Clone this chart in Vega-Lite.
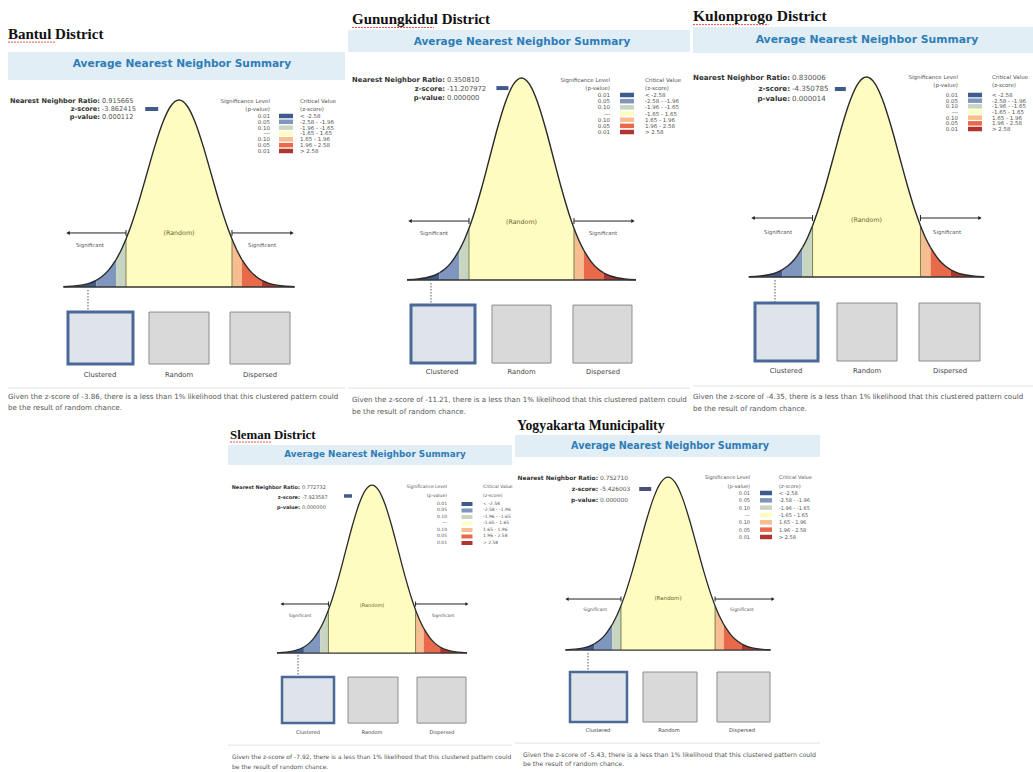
{
"$schema": "https://vega.github.io/schema/vega-lite/v6.json",
"background": "white",
"padding": 0,
"data": {"values": [{}]},
"datasets": {
"curve": [
{"band":"b1","z":-3.6,"d":0.0015},{"band":"b1","z":-3.25,"d":0.0051},{"band":"b1","z":-3.0,"d":0.0111},{"band":"b1","z":-2.8,"d":0.0198},{"band":"b1","z":-2.58,"d":0.0359},
{"band":"b2","z":-2.58,"d":0.0359},{"band":"b2","z":-2.4,"d":0.0561},{"band":"b2","z":-2.2,"d":0.0889},{"band":"b2","z":-1.96,"d":0.1465},
{"band":"b3","z":-1.96,"d":0.1465},{"band":"b3","z":-1.8,"d":0.1979},{"band":"b3","z":-1.65,"d":0.2563},
{"band":"b4","z":-1.65,"d":0.2563},{"band":"b4","z":-1.5,"d":0.3247},{"band":"b4","z":-1.25,"d":0.4578},{"band":"b4","z":-1.0,"d":0.6065},{"band":"b4","z":-0.75,"d":0.7548},{"band":"b4","z":-0.5,"d":0.8825},{"band":"b4","z":-0.25,"d":0.9692},{"band":"b4","z":0,"d":1},{"band":"b4","z":0.25,"d":0.9692},{"band":"b4","z":0.5,"d":0.8825},{"band":"b4","z":0.75,"d":0.7548},{"band":"b4","z":1.0,"d":0.6065},{"band":"b4","z":1.25,"d":0.4578},{"band":"b4","z":1.5,"d":0.3247},{"band":"b4","z":1.65,"d":0.2563},
{"band":"b5","z":1.65,"d":0.2563},{"band":"b5","z":1.8,"d":0.1979},{"band":"b5","z":1.96,"d":0.1465},
{"band":"b6","z":1.96,"d":0.1465},{"band":"b6","z":2.2,"d":0.0889},{"band":"b6","z":2.4,"d":0.0561},{"band":"b6","z":2.58,"d":0.0359},
{"band":"b7","z":2.58,"d":0.0359},{"band":"b7","z":2.8,"d":0.0198},{"band":"b7","z":3.0,"d":0.0111},{"band":"b7","z":3.25,"d":0.0051},{"band":"b7","z":3.6,"d":0.0015}
],
"legend": [
{"rank":1,"p":"0.01","crit":"< -2.58","band":"b1"},
{"rank":2,"p":"0.05","crit":"-2.58 - -1.96","band":"b2"},
{"rank":3,"p":"0.10","crit":"-1.96 - -1.65","band":"b3"},
{"rank":4,"p":"---","crit":"-1.65 - 1.65","band":"b4"},
{"rank":5,"p":"0.10","crit":"1.65 - 1.96","band":"b5"},
{"rank":6,"p":"0.05","crit":"1.96 - 2.58","band":"b6"},
{"rank":7,"p":"0.01","crit":"> 2.58","band":"b7"}
],
"bounds": [{"z":-1.65,"d":0.2563},{"z":1.65,"d":0.2563}]
},
"config": {"view": {"stroke": null}, "axis": {"disable": true}, "legend": {"disable": true}},
"spacing": 0,
"vconcat": [
{"hconcat": [
{"width": 345, "height": 416, "resolve": {"scale": {"y": "independent"}},
"layer": [
{"layer": [
{"mark":{"type":"rect","fill":"#e1eef6"},"encoding":{"x":{"datum":-5.327,"type":"quantitative","scale":{"domain":[-5.576,5.171],"nice":false,"zero":false}},"x2":{"datum":5.171},"y":{"datum":1.257,"type":"quantitative","scale":{"domain":[-0.690,1.535],"nice":false,"zero":false}},"y2":{"datum":1.107}}},
{"mark":{"type":"text","font":"Liberation Serif","fontWeight":"bold","fontSize":15,"align":"left","baseline":"middle","fill":"#111"},"encoding":{"x":{"datum":-5.327},"y":{"datum":1.353},"text":{"value":"Bantul District"}}},
{"mark":{"type":"rule","stroke":"#d9534f","strokeWidth":1,"strokeDash":[2,1]},"encoding":{"x":{"datum":-5.327},"x2":{"datum":-3.85},"y":{"datum":1.31}}},
{"mark":{"type":"text","font":"DejaVu Sans","fontWeight":"bold","fontSize":10.6,"fill":"#2f7db6"},"encoding":{"x":{"datum":0.093},"y":{"datum":1.193},"text":{"value":"Average Nearest Neighbor Summary"}}},
{"mark":{"type":"text","font":"DejaVu Sans","fontWeight":"bold","fontSize":6.6,"align":"right","baseline":"middle","lineHeight":8,"fill":"#333"},"encoding":{"x":{"datum":-2.461},"y":{"datum":0.995},"text":{"value":["Nearest Neighbor Ratio:","z-score:","p-value:"]}}},
{"mark":{"type":"text","font":"DejaVu Sans","fontSize":6.6,"align":"left","baseline":"middle","lineHeight":8,"fill":"#555"},"encoding":{"x":{"datum":-2.399},"y":{"datum":0.995},"text":{"value":["0.915665","-3.862415","0.000112"]}}},
{"mark":{"type":"tick","orient":"horizontal","size":13,"thickness":4,"opacity":1,"color":"#3f5b8c"},"encoding":{"x":{"datum":-0.85},"y":{"datum":0.952}}},
{"data":{"name":"curve"},"mark":{"type":"area","interpolate":"monotone","opacity":1},"encoding":{"x":{"field":"z","type":"quantitative"},"y":{"field":"d","type":"quantitative","stack":null},"color":{"field":"band","type":"nominal","scale":{"domain":["b1","b2","b3","b4","b5","b6","b7"],"range":["#3f5b8c","#7f97bf","#c8d5c0","#fefcc0","#f6bd90","#e9694b","#b0352e"]},"legend":null}}},
{"data":{"name":"bounds"},"mark":{"type":"rule","stroke":"#5e6a3a","strokeWidth":0.8},"encoding":{"x":{"field":"z","type":"quantitative"},"y":{"field":"d","type":"quantitative"},"y2":{"datum":0}}},
{"data":{"name":"curve"},"mark":{"type":"line","interpolate":"monotone","stroke":"#2a2a2a","strokeWidth":1.4},"encoding":{"x":{"field":"z","type":"quantitative"},"y":{"field":"d","type":"quantitative"},"detail":{"field":"band","type":"nominal"}}},
{"mark":{"type":"rule","stroke":"#333","strokeWidth":1.4},"encoding":{"x":{"datum":-3.6},"x2":{"datum":3.6},"y":{"datum":0}}},
{"mark":{"type":"rule","stroke":"#222","strokeWidth":1},"encoding":{"x":{"datum":-3.458},"x2":{"datum":-1.65},"y":{"datum":0.289}}},
{"mark":{"type":"rule","stroke":"#222","strokeWidth":1},"encoding":{"x":{"datum":1.65},"x2":{"datum":3.52},"y":{"datum":0.289}}},
{"mark":{"type":"point","shape":"triangle-left","size":16,"filled":true,"fill":"#222","opacity":1},"encoding":{"x":{"datum":-3.458},"y":{"datum":0.289}}},
{"mark":{"type":"point","shape":"triangle-right","size":16,"filled":true,"fill":"#222","opacity":1},"encoding":{"x":{"datum":3.52},"y":{"datum":0.289}}},
{"mark":{"type":"tick","orient":"vertical","size":6,"thickness":1,"opacity":1,"color":"#222"},"encoding":{"x":{"datum":-1.65},"y":{"datum":0.289}}},
{"mark":{"type":"tick","orient":"vertical","size":6,"thickness":1,"opacity":1,"color":"#222"},"encoding":{"x":{"datum":1.65},"y":{"datum":0.289}}},
{"mark":{"type":"text","font":"DejaVu Sans","fontSize":5.3,"fill":"#555"},"encoding":{"x":{"datum":-2.773},"y":{"datum":0.225},"text":{"value":"Significant"}}},
{"mark":{"type":"text","font":"DejaVu Sans","fontSize":5.3,"fill":"#555"},"encoding":{"x":{"datum":2.586},"y":{"datum":0.225},"text":{"value":"Significant"}}},
{"mark":{"type":"text","font":"DejaVu Sans","fontSize":6.3,"fill":"#6e5f2c"},"encoding":{"x":{"datum":0},"y":{"datum":0.289},"text":{"value":"(Random)"}}},
{"mark":{"type":"rule","stroke":"#555","strokeWidth":1,"strokeDash":[1.5,1.5]},"encoding":{"x":{"datum":-2.835},"y":{"datum":-0.016},"y2":{"datum":-0.134}}},
{"mark":{"type":"rect","fill":"#dfe4ea","stroke":"#4a6898","strokeWidth":3},"encoding":{"x":{"datum":-3.458},"x2":{"datum":-1.433},"y":{"datum":-0.134},"y2":{"datum":-0.412}}},
{"mark":{"type":"rect","fill":"#d9d9d9","stroke":"#8c8c8c","strokeWidth":1},"encoding":{"x":{"datum":-0.935},"x2":{"datum":0.935},"y":{"datum":-0.134},"y2":{"datum":-0.412}}},
{"mark":{"type":"rect","fill":"#d9d9d9","stroke":"#8c8c8c","strokeWidth":1},"encoding":{"x":{"datum":1.589},"x2":{"datum":3.458},"y":{"datum":-0.134},"y2":{"datum":-0.412}}},
{"mark":{"type":"text","font":"DejaVu Sans","fontSize":6.8,"fill":"#444"},"encoding":{"x":{"datum":-2.461},"y":{"datum":-0.471},"text":{"value":"Clustered"}}},
{"mark":{"type":"text","font":"DejaVu Sans","fontSize":6.8,"fill":"#444"},"encoding":{"x":{"datum":0},"y":{"datum":-0.471},"text":{"value":"Random"}}},
{"mark":{"type":"text","font":"DejaVu Sans","fontSize":6.8,"fill":"#444"},"encoding":{"x":{"datum":2.523},"y":{"datum":-0.471},"text":{"value":"Dispersed"}}},
{"mark":{"type":"rule","stroke":"#e3e3e3","strokeWidth":1},"encoding":{"x":{"datum":-5.327},"x2":{"datum":5.171},"y":{"datum":-0.540}}},
{"mark":{"type":"text","font":"DejaVu Sans","fontSize":7.1,"align":"left","baseline":"middle","lineHeight":11,"fill":"#555"},"encoding":{"x":{"datum":-5.327},"y":{"datum":-0.588},"text":{"value":["Given the z-score of -3.86, there is a less than 1% likelihood that this clustered pattern could","be the result of random chance."]}}}
]},
{"layer": [
{"mark":{"type":"text","font":"DejaVu Sans","fontSize":5.5,"align":"right","baseline":"middle","lineHeight":8,"fill":"#555"},"encoding":{"x":{"datum":2.835},"y":{"datum":-1.573,"type":"quantitative","scale":{"domain":[-18.897,52.458],"reverse":true,"nice":false,"zero":false}},"text":{"value":["Significance Level","(p-value)"]}}},
{"mark":{"type":"text","font":"DejaVu Sans","fontSize":5.5,"align":"left","baseline":"middle","lineHeight":8,"fill":"#555"},"encoding":{"x":{"datum":3.769},"y":{"datum":-1.573},"text":{"value":["Critical Value","(z-score)"]}}},
{"data":{"name":"legend"},"mark":{"type":"text","font":"DejaVu Sans","fontSize":5.5,"align":"right","baseline":"middle","fill":"#555"},"encoding":{"x":{"datum":2.835},"y":{"field":"rank","type":"quantitative"},"text":{"field":"p"}}},
{"data":{"name":"legend"},"mark":{"type":"tick","orient":"horizontal","size":14,"thickness":4.5,"opacity":1},"encoding":{"x":{"datum":3.333},"y":{"field":"rank","type":"quantitative"},"color":{"field":"band","type":"nominal","scale":{"domain":["b1","b2","b3","b4","b5","b6","b7"],"range":["#3f5b8c","#7f97bf","#c8d5c0","#fefcc0","#f6bd90","#e9694b","#b0352e"]},"legend":null}}},
{"data":{"name":"legend"},"mark":{"type":"text","font":"DejaVu Sans","fontSize":5.5,"align":"left","baseline":"middle","fill":"#555"},"encoding":{"x":{"datum":3.769},"y":{"field":"rank","type":"quantitative"},"text":{"field":"crit"}}}
]}
]},
{"width": 345, "height": 416, "resolve": {"scale": {"y": "independent"}},
"layer": [
{"layer": [
{"mark":{"type":"rect","fill":"#e1eef6"},"encoding":{"x":{"datum":-5.456,"type":"quantitative","scale":{"domain":[-5.550,5.299],"nice":false,"zero":false}},"x2":{"datum":5.299},"y":{"datum":1.238,"type":"quantitative","scale":{"domain":[-0.673,1.386],"nice":false,"zero":false}},"y2":{"datum":1.129}}},
{"mark":{"type":"text","font":"Liberation Serif","fontWeight":"bold","fontSize":15,"align":"left","baseline":"middle","fill":"#111"},"encoding":{"x":{"datum":-5.330},"y":{"datum":1.292},"text":{"value":"Gunungkidul District"}}},
{"mark":{"type":"rule","stroke":"#d9534f","strokeWidth":1,"strokeDash":[2,1]},"encoding":{"x":{"datum":-5.330},"x2":{"datum":-2.75},"y":{"datum":1.25}}},
{"mark":{"type":"text","font":"DejaVu Sans","fontWeight":"bold","fontSize":10.5,"fill":"#2f7db6"},"encoding":{"x":{"datum":0.016},"y":{"datum":1.178},"text":{"value":"Average Nearest Neighbor Summary"}}},
{"mark":{"type":"text","font":"DejaVu Sans","fontWeight":"bold","fontSize":6.8,"align":"right","baseline":"middle","lineHeight":9,"fill":"#333"},"encoding":{"x":{"datum":-2.406},"y":{"datum":0.990},"text":{"value":["Nearest Neighbor Ratio:","z-score:","p-value:"]}}},
{"mark":{"type":"text","font":"DejaVu Sans","fontSize":6.8,"align":"left","baseline":"middle","lineHeight":9,"fill":"#555"},"encoding":{"x":{"datum":-2.343},"y":{"datum":0.990},"text":{"value":["0.350810","-11.207972","0.000000"]}}},
{"mark":{"type":"tick","orient":"horizontal","size":12,"thickness":4,"opacity":1,"color":"#3f5b8c"},"encoding":{"x":{"datum":-0.6},"y":{"datum":0.950}}},
{"data":{"name":"curve"},"mark":{"type":"area","interpolate":"monotone","opacity":1},"encoding":{"x":{"field":"z","type":"quantitative"},"y":{"field":"d","type":"quantitative","stack":null},"color":{"field":"band","type":"nominal","scale":{"domain":["b1","b2","b3","b4","b5","b6","b7"],"range":["#3f5b8c","#7f97bf","#c8d5c0","#fefcc0","#f6bd90","#e9694b","#b0352e"]},"legend":null}}},
{"data":{"name":"bounds"},"mark":{"type":"rule","stroke":"#5e6a3a","strokeWidth":0.8},"encoding":{"x":{"field":"z","type":"quantitative"},"y":{"field":"d","type":"quantitative"},"y2":{"datum":0}}},
{"data":{"name":"curve"},"mark":{"type":"line","interpolate":"monotone","stroke":"#2a2a2a","strokeWidth":1.4},"encoding":{"x":{"field":"z","type":"quantitative"},"y":{"field":"d","type":"quantitative"},"detail":{"field":"band","type":"nominal"}}},
{"mark":{"type":"rule","stroke":"#333","strokeWidth":1.4},"encoding":{"x":{"datum":-3.6},"x2":{"datum":3.6},"y":{"datum":0}}},
{"mark":{"type":"rule","stroke":"#222","strokeWidth":1},"encoding":{"x":{"datum":-3.506},"x2":{"datum":-1.65},"y":{"datum":0.292}}},
{"mark":{"type":"rule","stroke":"#222","strokeWidth":1},"encoding":{"x":{"datum":1.65},"x2":{"datum":3.506},"y":{"datum":0.292}}},
{"mark":{"type":"point","shape":"triangle-left","size":16,"filled":true,"fill":"#222","opacity":1},"encoding":{"x":{"datum":-3.506},"y":{"datum":0.292}}},
{"mark":{"type":"point","shape":"triangle-right","size":16,"filled":true,"fill":"#222","opacity":1},"encoding":{"x":{"datum":3.506},"y":{"datum":0.292}}},
{"mark":{"type":"tick","orient":"vertical","size":6,"thickness":1,"opacity":1,"color":"#222"},"encoding":{"x":{"datum":-1.65},"y":{"datum":0.292}}},
{"mark":{"type":"tick","orient":"vertical","size":6,"thickness":1,"opacity":1,"color":"#222"},"encoding":{"x":{"datum":1.65},"y":{"datum":0.292}}},
{"mark":{"type":"text","font":"DejaVu Sans","fontSize":5.3,"fill":"#555"},"encoding":{"x":{"datum":-2.752},"y":{"datum":0.233},"text":{"value":"Significant"}}},
{"mark":{"type":"text","font":"DejaVu Sans","fontSize":5.3,"fill":"#555"},"encoding":{"x":{"datum":2.563},"y":{"datum":0.233},"text":{"value":"Significant"}}},
{"mark":{"type":"text","font":"DejaVu Sans","fontSize":6.3,"fill":"#6e5f2c"},"encoding":{"x":{"datum":0},"y":{"datum":0.287},"text":{"value":"(Random)"}}},
{"mark":{"type":"rule","stroke":"#555","strokeWidth":1,"strokeDash":[1.5,1.5]},"encoding":{"x":{"datum":-2.846},"y":{"datum":-0.015},"y2":{"datum":-0.124}}},
{"mark":{"type":"rect","fill":"#dfe4ea","stroke":"#4a6898","strokeWidth":3},"encoding":{"x":{"datum":-3.475},"x2":{"datum":-1.462},"y":{"datum":-0.124},"y2":{"datum":-0.411}}},
{"mark":{"type":"rect","fill":"#d9d9d9","stroke":"#8c8c8c","strokeWidth":1},"encoding":{"x":{"datum":-0.928},"x2":{"datum":0.928},"y":{"datum":-0.124},"y2":{"datum":-0.411}}},
{"mark":{"type":"rect","fill":"#d9d9d9","stroke":"#8c8c8c","strokeWidth":1},"encoding":{"x":{"datum":1.619},"x2":{"datum":3.475},"y":{"datum":-0.124},"y2":{"datum":-0.411}}},
{"mark":{"type":"text","font":"DejaVu Sans","fontSize":6.8,"fill":"#444"},"encoding":{"x":{"datum":-2.5},"y":{"datum":-0.455},"text":{"value":"Clustered"}}},
{"mark":{"type":"text","font":"DejaVu Sans","fontSize":6.8,"fill":"#444"},"encoding":{"x":{"datum":0},"y":{"datum":-0.455},"text":{"value":"Random"}}},
{"mark":{"type":"text","font":"DejaVu Sans","fontSize":6.8,"fill":"#444"},"encoding":{"x":{"datum":2.563},"y":{"datum":-0.455},"text":{"value":"Dispersed"}}},
{"mark":{"type":"rule","stroke":"#e3e3e3","strokeWidth":1},"encoding":{"x":{"datum":-5.456},"x2":{"datum":5.299},"y":{"datum":-0.535}}},
{"mark":{"type":"text","font":"DejaVu Sans","fontSize":7.1,"align":"left","baseline":"middle","lineHeight":12,"fill":"#555"},"encoding":{"x":{"datum":-5.330},"y":{"datum":-0.594},"text":{"value":["Given the z-score of -11.21, there is a less than 1% likelihood that this clustered pattern could","be the result of random chance."]}}}
]},
{"layer": [
{"mark":{"type":"text","font":"DejaVu Sans","fontSize":5.5,"align":"right","baseline":"middle","lineHeight":8,"fill":"#555"},"encoding":{"x":{"datum":2.783},"y":{"datum":-1.431,"type":"quantitative","scale":{"domain":[-14.397,53.026],"reverse":true,"nice":false,"zero":false}},"text":{"value":["Significance Level","(p-value)"]}}},
{"mark":{"type":"text","font":"DejaVu Sans","fontSize":5.5,"align":"left","baseline":"middle","lineHeight":8,"fill":"#555"},"encoding":{"x":{"datum":3.884},"y":{"datum":-1.431},"text":{"value":["Critical Value","(z-score)"]}}},
{"data":{"name":"legend"},"mark":{"type":"text","font":"DejaVu Sans","fontSize":5.5,"align":"right","baseline":"middle","fill":"#555"},"encoding":{"x":{"datum":2.783},"y":{"field":"rank","type":"quantitative"},"text":{"field":"p"}}},
{"data":{"name":"legend"},"mark":{"type":"tick","orient":"horizontal","size":14,"thickness":4.5,"opacity":1},"encoding":{"x":{"datum":3.318},"y":{"field":"rank","type":"quantitative"},"color":{"field":"band","type":"nominal","scale":{"domain":["b1","b2","b3","b4","b5","b6","b7"],"range":["#3f5b8c","#7f97bf","#c8d5c0","#fefcc0","#f6bd90","#e9694b","#b0352e"]},"legend":null}}},
{"data":{"name":"legend"},"mark":{"type":"text","font":"DejaVu Sans","fontSize":5.5,"align":"left","baseline":"middle","fill":"#555"},"encoding":{"x":{"datum":3.884},"y":{"field":"rank","type":"quantitative"},"text":{"field":"crit"}}}
]}
]},
{"width": 343, "height": 416, "resolve": {"scale": {"y": "independent"}},
"layer": [
{"layer": [
{"mark":{"type":"rect","fill":"#e1eef6"},"encoding":{"x":{"datum":-5.306,"type":"quantitative","scale":{"domain":[-5.398,5.092],"nice":false,"zero":false}},"x2":{"datum":5.092},"y":{"datum":1.25,"type":"quantitative","scale":{"domain":[-0.695,1.385],"nice":false,"zero":false}},"y2":{"datum":1.12}}},
{"mark":{"type":"text","font":"Liberation Serif","fontWeight":"bold","fontSize":15.5,"align":"left","baseline":"middle","fill":"#111"},"encoding":{"x":{"datum":-5.306},"y":{"datum":1.305},"text":{"value":"Kulonprogo District"}}},
{"mark":{"type":"rule","stroke":"#d9534f","strokeWidth":1,"strokeDash":[2,1]},"encoding":{"x":{"datum":-5.306},"x2":{"datum":-3.0},"y":{"datum":1.262}}},
{"mark":{"type":"text","font":"DejaVu Sans","fontWeight":"bold","fontSize":10.8,"fill":"#2f7db6"},"encoding":{"x":{"datum":0.015},"y":{"datum":1.185},"text":{"value":"Average Nearest Neighbor Summary"}}},
{"mark":{"type":"text","font":"DejaVu Sans","fontWeight":"bold","fontSize":7.1,"align":"right","baseline":"middle","lineHeight":10.5,"fill":"#333"},"encoding":{"x":{"datum":-2.339},"y":{"datum":0.995},"text":{"value":["Nearest Neighbor Ratio:","z-score:","p-value:"]}}},
{"mark":{"type":"text","font":"DejaVu Sans","fontSize":7.1,"align":"left","baseline":"middle","lineHeight":10.5,"fill":"#555"},"encoding":{"x":{"datum":-2.278},"y":{"datum":0.995},"text":{"value":["0.830006","-4.350785","0.000014"]}}},
{"mark":{"type":"tick","orient":"horizontal","size":11,"thickness":4,"opacity":1,"color":"#3f5b8c"},"encoding":{"x":{"datum":-0.8},"y":{"datum":0.94}}},
{"data":{"name":"curve"},"mark":{"type":"area","interpolate":"monotone","opacity":1},"encoding":{"x":{"field":"z","type":"quantitative"},"y":{"field":"d","type":"quantitative","stack":null},"color":{"field":"band","type":"nominal","scale":{"domain":["b1","b2","b3","b4","b5","b6","b7"],"range":["#3f5b8c","#7f97bf","#c8d5c0","#fefcc0","#f6bd90","#e9694b","#b0352e"]},"legend":null}}},
{"data":{"name":"bounds"},"mark":{"type":"rule","stroke":"#5e6a3a","strokeWidth":0.8},"encoding":{"x":{"field":"z","type":"quantitative"},"y":{"field":"d","type":"quantitative"},"y2":{"datum":0}}},
{"data":{"name":"curve"},"mark":{"type":"line","interpolate":"monotone","stroke":"#2a2a2a","strokeWidth":1.4},"encoding":{"x":{"field":"z","type":"quantitative"},"y":{"field":"d","type":"quantitative"},"detail":{"field":"band","type":"nominal"}}},
{"mark":{"type":"rule","stroke":"#333","strokeWidth":1.4},"encoding":{"x":{"datum":-3.6},"x2":{"datum":3.6},"y":{"datum":0}}},
{"mark":{"type":"rule","stroke":"#222","strokeWidth":1},"encoding":{"x":{"datum":-3.471},"x2":{"datum":-1.65},"y":{"datum":0.295}}},
{"mark":{"type":"rule","stroke":"#222","strokeWidth":1},"encoding":{"x":{"datum":1.65},"x2":{"datum":3.471},"y":{"datum":0.295}}},
{"mark":{"type":"point","shape":"triangle-left","size":16,"filled":true,"fill":"#222","opacity":1},"encoding":{"x":{"datum":-3.471},"y":{"datum":0.295}}},
{"mark":{"type":"point","shape":"triangle-right","size":16,"filled":true,"fill":"#222","opacity":1},"encoding":{"x":{"datum":3.471},"y":{"datum":0.295}}},
{"mark":{"type":"tick","orient":"vertical","size":6,"thickness":1,"opacity":1,"color":"#222"},"encoding":{"x":{"datum":-1.65},"y":{"datum":0.295}}},
{"mark":{"type":"tick","orient":"vertical","size":6,"thickness":1,"opacity":1,"color":"#222"},"encoding":{"x":{"datum":1.65},"y":{"datum":0.295}}},
{"mark":{"type":"text","font":"DejaVu Sans","fontSize":5.3,"fill":"#555"},"encoding":{"x":{"datum":-2.706},"y":{"datum":0.225},"text":{"value":"Significant"}}},
{"mark":{"type":"text","font":"DejaVu Sans","fontSize":5.3,"fill":"#555"},"encoding":{"x":{"datum":2.462},"y":{"datum":0.225},"text":{"value":"Significant"}}},
{"mark":{"type":"text","font":"DejaVu Sans","fontSize":6.3,"fill":"#6e5f2c"},"encoding":{"x":{"datum":0},"y":{"datum":0.285},"text":{"value":"(Random)"}}},
{"mark":{"type":"rule","stroke":"#555","strokeWidth":1,"strokeDash":[1.5,1.5]},"encoding":{"x":{"datum":-2.798},"y":{"datum":-0.015},"y2":{"datum":-0.13}}},
{"mark":{"type":"rect","fill":"#dfe4ea","stroke":"#4a6898","strokeWidth":3},"encoding":{"x":{"datum":-3.410},"x2":{"datum":-1.483},"y":{"datum":-0.13},"y2":{"datum":-0.42}}},
{"mark":{"type":"rect","fill":"#d9d9d9","stroke":"#8c8c8c","strokeWidth":1},"encoding":{"x":{"datum":-0.902},"x2":{"datum":0.933},"y":{"datum":-0.13},"y2":{"datum":-0.42}}},
{"mark":{"type":"rect","fill":"#d9d9d9","stroke":"#8c8c8c","strokeWidth":1},"encoding":{"x":{"datum":1.606},"x2":{"datum":3.471},"y":{"datum":-0.13},"y2":{"datum":-0.42}}},
{"mark":{"type":"text","font":"DejaVu Sans","fontSize":6.8,"fill":"#444"},"encoding":{"x":{"datum":-2.462},"y":{"datum":-0.47},"text":{"value":"Clustered"}}},
{"mark":{"type":"text","font":"DejaVu Sans","fontSize":6.8,"fill":"#444"},"encoding":{"x":{"datum":0.015},"y":{"datum":-0.47},"text":{"value":"Random"}}},
{"mark":{"type":"text","font":"DejaVu Sans","fontSize":6.8,"fill":"#444"},"encoding":{"x":{"datum":2.554},"y":{"datum":-0.47},"text":{"value":"Dispersed"}}},
{"mark":{"type":"rule","stroke":"#e3e3e3","strokeWidth":1},"encoding":{"x":{"datum":-5.306},"x2":{"datum":5.092},"y":{"datum":-0.545}}},
{"mark":{"type":"text","font":"DejaVu Sans","fontSize":7.1,"align":"left","baseline":"middle","lineHeight":12,"fill":"#555"},"encoding":{"x":{"datum":-5.306},"y":{"datum":-0.6},"text":{"value":["Given the z-score of -4.35, there is a less than 1% likelihood that this clustered pattern could","be the result of random chance."]}}}
]},
{"layer": [
{"mark":{"type":"text","font":"DejaVu Sans","fontSize":5.5,"align":"right","baseline":"middle","lineHeight":8,"fill":"#555"},"encoding":{"x":{"datum":2.798},"y":{"datum":-2.175,"type":"quantitative","scale":{"domain":[-15.755,57.614],"reverse":true,"nice":false,"zero":false}},"text":{"value":["Significance Level","(p-value)"]}}},
{"mark":{"type":"text","font":"DejaVu Sans","fontSize":5.5,"align":"left","baseline":"middle","lineHeight":8,"fill":"#555"},"encoding":{"x":{"datum":3.838},"y":{"datum":-2.175},"text":{"value":["Critical Value","(z-score)"]}}},
{"data":{"name":"legend"},"mark":{"type":"text","font":"DejaVu Sans","fontSize":5.5,"align":"right","baseline":"middle","fill":"#555"},"encoding":{"x":{"datum":2.798},"y":{"field":"rank","type":"quantitative"},"text":{"field":"p"}}},
{"data":{"name":"legend"},"mark":{"type":"tick","orient":"horizontal","size":14,"thickness":4.5,"opacity":1},"encoding":{"x":{"datum":3.318},"y":{"field":"rank","type":"quantitative"},"color":{"field":"band","type":"nominal","scale":{"domain":["b1","b2","b3","b4","b5","b6","b7"],"range":["#3f5b8c","#7f97bf","#c8d5c0","#fefcc0","#f6bd90","#e9694b","#b0352e"]},"legend":null}}},
{"data":{"name":"legend"},"mark":{"type":"text","font":"DejaVu Sans","fontSize":5.5,"align":"left","baseline":"middle","fill":"#555"},"encoding":{"x":{"datum":3.838},"y":{"field":"rank","type":"quantitative"},"text":{"field":"crit"}}}
]}
]}
], "spacing": 0, "bounds": "flush"},
{"hconcat": [
{"width": 512, "height": 356, "resolve": {"scale": {"y": "independent"}},
"layer": [
{"layer": [
{"mark":{"type":"rect","fill":"#e1eef6"},"encoding":{"x":{"datum":-5.455,"type":"quantitative","scale":{"domain":[-14.091,5.303],"nice":false,"zero":false}},"x2":{"datum":5.303},"y":{"datum":1.238,"type":"quantitative","scale":{"domain":[-0.708,1.411],"nice":false,"zero":false}},"y2":{"datum":1.119}}},
{"mark":{"type":"text","font":"Liberation Serif","fontWeight":"bold","fontSize":12.9,"align":"left","baseline":"middle","fill":"#111"},"encoding":{"x":{"datum":-5.379},"y":{"datum":1.298},"text":{"value":"Sleman District"}}},
{"mark":{"type":"rule","stroke":"#d9534f","strokeWidth":1,"strokeDash":[2,1]},"encoding":{"x":{"datum":-5.379},"x2":{"datum":-3.8},"y":{"datum":1.256}}},
{"mark":{"type":"text","font":"DejaVu Sans","fontWeight":"bold","fontSize":8.8,"fill":"#2f7db6"},"encoding":{"x":{"datum":0.114},"y":{"datum":1.185},"text":{"value":"Average Nearest Neighbor Summary"}}},
{"mark":{"type":"text","font":"DejaVu Sans","fontWeight":"bold","fontSize":5.0,"align":"right","baseline":"middle","lineHeight":10,"fill":"#333"},"encoding":{"x":{"datum":-2.727},"y":{"datum":0.988},"text":{"value":["Nearest Neighbor Ratio:","z-score:","p-value:"]}}},
{"mark":{"type":"text","font":"DejaVu Sans","fontSize":5.0,"align":"left","baseline":"middle","lineHeight":10,"fill":"#555"},"encoding":{"x":{"datum":-2.652},"y":{"datum":0.988},"text":{"value":["0.772732","-7.923587","0.000000"]}}},
{"mark":{"type":"tick","orient":"horizontal","size":8,"thickness":3.5,"opacity":1,"color":"#3f5b8c"},"encoding":{"x":{"datum":-0.909},"y":{"datum":0.935}}},
{"data":{"name":"curve"},"mark":{"type":"area","interpolate":"monotone","opacity":1},"encoding":{"x":{"field":"z","type":"quantitative"},"y":{"field":"d","type":"quantitative","stack":null},"color":{"field":"band","type":"nominal","scale":{"domain":["b1","b2","b3","b4","b5","b6","b7"],"range":["#3f5b8c","#7f97bf","#c8d5c0","#fefcc0","#f6bd90","#e9694b","#b0352e"]},"legend":null}}},
{"data":{"name":"bounds"},"mark":{"type":"rule","stroke":"#5e6a3a","strokeWidth":0.8},"encoding":{"x":{"field":"z","type":"quantitative"},"y":{"field":"d","type":"quantitative"},"y2":{"datum":0}}},
{"data":{"name":"curve"},"mark":{"type":"line","interpolate":"monotone","stroke":"#2a2a2a","strokeWidth":1.3},"encoding":{"x":{"field":"z","type":"quantitative"},"y":{"field":"d","type":"quantitative"},"detail":{"field":"band","type":"nominal"}}},
{"mark":{"type":"rule","stroke":"#333","strokeWidth":1.3},"encoding":{"x":{"datum":-3.6},"x2":{"datum":3.6},"y":{"datum":0}}},
{"mark":{"type":"rule","stroke":"#222","strokeWidth":1},"encoding":{"x":{"datum":-3.409},"x2":{"datum":-1.65},"y":{"datum":0.292}}},
{"mark":{"type":"rule","stroke":"#222","strokeWidth":1},"encoding":{"x":{"datum":1.65},"x2":{"datum":3.598},"y":{"datum":0.292}}},
{"mark":{"type":"point","shape":"triangle-left","size":14,"filled":true,"fill":"#222","opacity":1},"encoding":{"x":{"datum":-3.409},"y":{"datum":0.292}}},
{"mark":{"type":"point","shape":"triangle-right","size":14,"filled":true,"fill":"#222","opacity":1},"encoding":{"x":{"datum":3.598},"y":{"datum":0.292}}},
{"mark":{"type":"tick","orient":"vertical","size":5,"thickness":1,"opacity":1,"color":"#222"},"encoding":{"x":{"datum":-1.65},"y":{"datum":0.292}}},
{"mark":{"type":"tick","orient":"vertical","size":5,"thickness":1,"opacity":1,"color":"#222"},"encoding":{"x":{"datum":1.65},"y":{"datum":0.292}}},
{"mark":{"type":"text","font":"DejaVu Sans","fontSize":4.3,"fill":"#555"},"encoding":{"x":{"datum":-2.727},"y":{"datum":0.22},"text":{"value":"Significant"}}},
{"mark":{"type":"text","font":"DejaVu Sans","fontSize":4.3,"fill":"#555"},"encoding":{"x":{"datum":2.689},"y":{"datum":0.22},"text":{"value":"Significant"}}},
{"mark":{"type":"text","font":"DejaVu Sans","fontSize":5,"fill":"#6e5f2c"},"encoding":{"x":{"datum":0},"y":{"datum":0.286},"text":{"value":"(Random)"}}},
{"mark":{"type":"rule","stroke":"#555","strokeWidth":1,"strokeDash":[1.5,1.5]},"encoding":{"x":{"datum":-2.803},"y":{"datum":-0.012},"y2":{"datum":-0.143}}},
{"mark":{"type":"rect","fill":"#dfe4ea","stroke":"#4a6898","strokeWidth":2.5},"encoding":{"x":{"datum":-3.409},"x2":{"datum":-1.439},"y":{"datum":-0.143},"y2":{"datum":-0.417}}},
{"mark":{"type":"rect","fill":"#d9d9d9","stroke":"#8c8c8c","strokeWidth":1},"encoding":{"x":{"datum":-0.909},"x2":{"datum":0.985},"y":{"datum":-0.143},"y2":{"datum":-0.417}}},
{"mark":{"type":"rect","fill":"#d9d9d9","stroke":"#8c8c8c","strokeWidth":1},"encoding":{"x":{"datum":1.705},"x2":{"datum":3.561},"y":{"datum":-0.143},"y2":{"datum":-0.417}}},
{"mark":{"type":"text","font":"DejaVu Sans","fontSize":5,"fill":"#444"},"encoding":{"x":{"datum":-2.424},"y":{"datum":-0.47},"text":{"value":"Clustered"}}},
{"mark":{"type":"text","font":"DejaVu Sans","fontSize":5,"fill":"#444"},"encoding":{"x":{"datum":0},"y":{"datum":-0.47},"text":{"value":"Random"}}},
{"mark":{"type":"text","font":"DejaVu Sans","fontSize":5,"fill":"#444"},"encoding":{"x":{"datum":2.652},"y":{"datum":-0.47},"text":{"value":"Dispersed"}}},
{"mark":{"type":"rule","stroke":"#e3e3e3","strokeWidth":1},"encoding":{"x":{"datum":-5.455},"x2":{"datum":5.303},"y":{"datum":-0.548}}},
{"mark":{"type":"text","font":"DejaVu Sans","fontSize":6.0,"align":"left","baseline":"middle","lineHeight":10,"fill":"#555"},"encoding":{"x":{"datum":-5.303},"y":{"datum":-0.619},"text":{"value":["Given the z-score of -7.92, there is a less than 1% likelihood that this clustered pattern could","be the result of random chance."]}}}
]},
{"layer": [
{"mark":{"type":"text","font":"DejaVu Sans","fontSize":4.5,"align":"right","baseline":"middle","lineHeight":9,"fill":"#555"},"encoding":{"x":{"datum":2.841},"y":{"datum":-1.615,"type":"quantitative","scale":{"domain":[-12.538,42.231],"reverse":true,"nice":false,"zero":false}},"text":{"value":["Significance Level","(p-value)"]}}},
{"mark":{"type":"text","font":"DejaVu Sans","fontSize":4.5,"align":"left","baseline":"middle","lineHeight":9,"fill":"#555"},"encoding":{"x":{"datum":4.205},"y":{"datum":-1.615},"text":{"value":["Critical Value","(z-score)"]}}},
{"data":{"name":"legend"},"mark":{"type":"text","font":"DejaVu Sans","fontSize":4.5,"align":"right","baseline":"middle","fill":"#555"},"encoding":{"x":{"datum":2.841},"y":{"field":"rank","type":"quantitative"},"text":{"field":"p"}}},
{"data":{"name":"legend"},"mark":{"type":"tick","orient":"horizontal","size":11,"thickness":4,"opacity":1},"encoding":{"x":{"datum":3.598},"y":{"field":"rank","type":"quantitative"},"color":{"field":"band","type":"nominal","scale":{"domain":["b1","b2","b3","b4","b5","b6","b7"],"range":["#3f5b8c","#7f97bf","#c8d5c0","#fefcc0","#f6bd90","#e9694b","#b0352e"]},"legend":null}}},
{"data":{"name":"legend"},"mark":{"type":"text","font":"DejaVu Sans","fontSize":4.5,"align":"left","baseline":"middle","fill":"#555"},"encoding":{"x":{"datum":4.205},"y":{"field":"rank","type":"quantitative"},"text":{"field":"crit"}}}
]}
]},
{"width": 318, "height": 356, "resolve": {"scale": {"y": "independent"}},
"layer": [
{"layer": [
{"mark":{"type":"rect","fill":"#e1eef6"},"encoding":{"x":{"datum":-5.368,"type":"quantitative","scale":{"domain":[-5.474,5.684],"nice":false,"zero":false}},"x2":{"datum":5.333},"y":{"datum":1.243,"type":"quantitative","scale":{"domain":[-0.705,1.353],"nice":false,"zero":false}},"y2":{"datum":1.116}}},
{"mark":{"type":"text","font":"Liberation Serif","fontWeight":"bold","fontSize":13.8,"align":"left","baseline":"middle","fill":"#111"},"encoding":{"x":{"datum":-5.298},"y":{"datum":1.295},"text":{"value":"Yogyakarta Municipality"}}},
{"mark":{"type":"text","font":"DejaVu Sans","fontWeight":"bold","fontSize":9.6,"fill":"#2f7db6"},"encoding":{"x":{"datum":0.07},"y":{"datum":1.179},"text":{"value":"Average Nearest Neighbor Summary"}}},
{"mark":{"type":"text","font":"DejaVu Sans","fontWeight":"bold","fontSize":5.9,"align":"right","baseline":"middle","lineHeight":11,"fill":"#333"},"encoding":{"x":{"datum":-2.456},"y":{"datum":0.994},"text":{"value":["Nearest Neighbor Ratio:","z-score:","p-value:"]}}},
{"mark":{"type":"text","font":"DejaVu Sans","fontSize":5.9,"align":"left","baseline":"middle","lineHeight":11,"fill":"#555"},"encoding":{"x":{"datum":-2.386},"y":{"datum":0.994},"text":{"value":["0.752710","-5.426003","0.000000"]}}},
{"mark":{"type":"tick","orient":"horizontal","size":12,"thickness":4,"opacity":1,"color":"#4a4f80"},"encoding":{"x":{"datum":-0.8},"y":{"datum":0.931}}},
{"data":{"name":"curve"},"mark":{"type":"area","interpolate":"monotone","opacity":1},"encoding":{"x":{"field":"z","type":"quantitative"},"y":{"field":"d","type":"quantitative","stack":null},"color":{"field":"band","type":"nominal","scale":{"domain":["b1","b2","b3","b4","b5","b6","b7"],"range":["#3f5b8c","#7f97bf","#c8d5c0","#fefcc0","#f6bd90","#e9694b","#b0352e"]},"legend":null}}},
{"data":{"name":"bounds"},"mark":{"type":"rule","stroke":"#5e6a3a","strokeWidth":0.8},"encoding":{"x":{"field":"z","type":"quantitative"},"y":{"field":"d","type":"quantitative"},"y2":{"datum":0}}},
{"data":{"name":"curve"},"mark":{"type":"line","interpolate":"monotone","stroke":"#2a2a2a","strokeWidth":1.3},"encoding":{"x":{"field":"z","type":"quantitative"},"y":{"field":"d","type":"quantitative"},"detail":{"field":"band","type":"nominal"}}},
{"mark":{"type":"rule","stroke":"#333","strokeWidth":1.3},"encoding":{"x":{"datum":-3.6},"x2":{"datum":3.6},"y":{"datum":0}}},
{"mark":{"type":"rule","stroke":"#222","strokeWidth":1},"encoding":{"x":{"datum":-3.544},"x2":{"datum":-1.65},"y":{"datum":0.295}}},
{"mark":{"type":"rule","stroke":"#222","strokeWidth":1},"encoding":{"x":{"datum":1.65},"x2":{"datum":3.684},"y":{"datum":0.295}}},
{"mark":{"type":"point","shape":"triangle-left","size":14,"filled":true,"fill":"#222","opacity":1},"encoding":{"x":{"datum":-3.544},"y":{"datum":0.295}}},
{"mark":{"type":"point","shape":"triangle-right","size":14,"filled":true,"fill":"#222","opacity":1},"encoding":{"x":{"datum":3.684},"y":{"datum":0.295}}},
{"mark":{"type":"tick","orient":"vertical","size":5,"thickness":1,"opacity":1,"color":"#222"},"encoding":{"x":{"datum":-1.65},"y":{"datum":0.295}}},
{"mark":{"type":"tick","orient":"vertical","size":5,"thickness":1,"opacity":1,"color":"#222"},"encoding":{"x":{"datum":1.65},"y":{"datum":0.295}}},
{"mark":{"type":"text","font":"DejaVu Sans","fontSize":4.5,"fill":"#555"},"encoding":{"x":{"datum":-2.561},"y":{"datum":0.231},"text":{"value":"Significant"}}},
{"mark":{"type":"text","font":"DejaVu Sans","fontSize":4.5,"fill":"#555"},"encoding":{"x":{"datum":2.596},"y":{"datum":0.231},"text":{"value":"Significant"}}},
{"mark":{"type":"text","font":"DejaVu Sans","fontSize":5.5,"fill":"#6e5f2c"},"encoding":{"x":{"datum":0},"y":{"datum":0.301},"text":{"value":"(Random)"}}},
{"mark":{"type":"rule","stroke":"#555","strokeWidth":1,"strokeDash":[1.5,1.5]},"encoding":{"x":{"datum":-2.807},"y":{"datum":-0.017},"y2":{"datum":-0.127}}},
{"mark":{"type":"rect","fill":"#dfe4ea","stroke":"#4a6898","strokeWidth":2.5},"encoding":{"x":{"datum":-3.439},"x2":{"datum":-1.439},"y":{"datum":-0.127},"y2":{"datum":-0.416}}},
{"mark":{"type":"rect","fill":"#d9d9d9","stroke":"#8c8c8c","strokeWidth":1},"encoding":{"x":{"datum":-0.877},"x2":{"datum":1.018},"y":{"datum":-0.127},"y2":{"datum":-0.416}}},
{"mark":{"type":"rect","fill":"#d9d9d9","stroke":"#8c8c8c","strokeWidth":1},"encoding":{"x":{"datum":1.719},"x2":{"datum":3.579},"y":{"datum":-0.127},"y2":{"datum":-0.416}}},
{"mark":{"type":"text","font":"DejaVu Sans","fontSize":5.2,"fill":"#444"},"encoding":{"x":{"datum":-2.456},"y":{"datum":-0.462},"text":{"value":"Clustered"}}},
{"mark":{"type":"text","font":"DejaVu Sans","fontSize":5.2,"fill":"#444"},"encoding":{"x":{"datum":0.035},"y":{"datum":-0.462},"text":{"value":"Random"}}},
{"mark":{"type":"text","font":"DejaVu Sans","fontSize":5.2,"fill":"#444"},"encoding":{"x":{"datum":2.596},"y":{"datum":-0.462},"text":{"value":"Dispersed"}}},
{"mark":{"type":"rule","stroke":"#e3e3e3","strokeWidth":1},"encoding":{"x":{"datum":-5.368},"x2":{"datum":5.333},"y":{"datum":-0.538}}},
{"mark":{"type":"text","font":"DejaVu Sans","fontSize":6.3,"align":"left","baseline":"middle","lineHeight":9,"fill":"#555"},"encoding":{"x":{"datum":-5.088},"y":{"datum":-0.607},"text":{"value":["Given the z-score of -5.43, there is a less than 1% likelihood that this clustered pattern could","be the result of random chance."]}}}
]},
{"layer": [
{"mark":{"type":"text","font":"DejaVu Sans","fontSize":5,"align":"right","baseline":"middle","lineHeight":9,"fill":"#555"},"encoding":{"x":{"datum":2.877},"y":{"datum":-1.183,"type":"quantitative","scale":{"domain":[-9.505,39.063],"reverse":true,"nice":false,"zero":false}},"text":{"value":["Significance Level","(p-value)"]}}},
{"mark":{"type":"text","font":"DejaVu Sans","fontSize":5,"align":"left","baseline":"middle","lineHeight":9,"fill":"#555"},"encoding":{"x":{"datum":3.895},"y":{"datum":-1.183},"text":{"value":["Critical Value","(z-score)"]}}},
{"data":{"name":"legend"},"mark":{"type":"text","font":"DejaVu Sans","fontSize":5,"align":"right","baseline":"middle","fill":"#555"},"encoding":{"x":{"datum":2.877},"y":{"field":"rank","type":"quantitative"},"text":{"field":"p"}}},
{"data":{"name":"legend"},"mark":{"type":"tick","orient":"horizontal","size":12,"thickness":4.5,"opacity":1},"encoding":{"x":{"datum":3.439},"y":{"field":"rank","type":"quantitative"},"color":{"field":"band","type":"nominal","scale":{"domain":["b1","b2","b3","b4","b5","b6","b7"],"range":["#3f5b8c","#7f97bf","#c8d5c0","#fefcc0","#f6bd90","#e9694b","#b0352e"]},"legend":null}}},
{"data":{"name":"legend"},"mark":{"type":"text","font":"DejaVu Sans","fontSize":5,"align":"left","baseline":"middle","fill":"#555"},"encoding":{"x":{"datum":3.895},"y":{"field":"rank","type":"quantitative"},"text":{"field":"crit"}}}
]}
]}
], "spacing": 0, "bounds": "flush"}
]
}
